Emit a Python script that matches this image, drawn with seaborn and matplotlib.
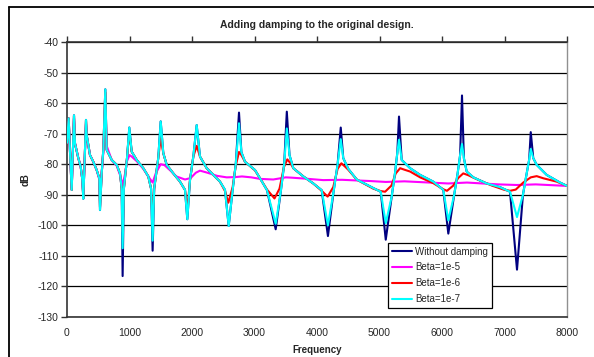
import matplotlib
matplotlib.use("Agg")
import matplotlib.pyplot as plt
from matplotlib.lines import Line2D
import seaborn as sns
import pandas as pd

# ---------------- data ----------------
freq_main = [0, 27, 48, 75, 112, 128, 181, 219, 245, 261, 280, 304, 315, 368, 421, 475, 517, 528,
             555, 581, 613, 635, 715, 795, 848, 875, 890, 910, 960, 997, 1035, 1115, 1221, 1301,
             1345, 1370, 1395, 1460, 1499, 1541, 1595, 1701, 1808, 1888, 1925, 1968, 2021, 2075,
             2128, 2235, 2341, 2448, 2528, 2587, 2650, 2700, 2752, 2790, 2848, 3008, 3100, 3200,
             3339, 3420, 3475, 3517, 3560, 3621, 3781, 3941, 4075, 4175, 4265, 4330, 4380, 4420,
             4500, 4635, 4900, 5020, 5100, 5195, 5248, 5285, 5312, 5355, 5490, 5650, 5860, 6021,
             6101, 6195, 6250, 6290, 6320, 6350, 6395, 6501, 6715, 6928, 7088, 7200, 7295, 7355,
             7395, 7420, 7460, 7515, 7675, 7888, 8000]

db_no_damping = [-73, -65, -76, -88.4, -64, -73.2, -78, -80.8, -85, -91.3, -80, -65.5, -70.4, -77,
                 -79.2, -81.9, -84.6, -95, -83, -75.3, -55.5, -75.3, -78.6, -80.2, -83, -88, -116.6,
                 -88, -78, -68, -75.9, -78.6, -81.3, -84, -88, -108.3, -88, -78, -66, -76.4, -80.2,
                 -83, -85.7, -88.4, -98, -85.2, -77.5, -67.2, -77.5, -81.3, -83.5, -85.7, -88.4,
                 -100.2, -88.5, -80, -63.1, -76, -79.2, -81.9, -85, -88.5, -101.3, -89, -80, -62.8,
                 -77, -81.3, -84, -86.3, -88.5, -103.5, -89, -80, -68, -78, -81.5, -85, -87.8, -89,
                 -104.7, -90.6, -82.9, -76.3, -64.4, -78.6, -81.3, -83.5, -85.7, -88.4, -102.7, -90,
                 -83, -77, -57.5, -78, -82.4, -84.3, -86.3, -87.5, -89, -114.5, -90, -83, -78.5,
                 -69.5, -78, -80.2, -83.5, -86, -87.1]

db_beta_1e7 = [-73, -65, -76, -88.4, -64, -73.2, -78, -80.8, -85, -91.3, -80, -65.5, -70.4, -77,
               -79.2, -81.9, -84.6, -95, -83, -75.3, -55.5, -75.3, -78.6, -80.2, -83, -88, -107.5,
               -88, -78, -68, -75.9, -78.6, -81.3, -84, -88, -105, -88, -78, -66, -76.4, -80.2,
               -83, -85.7, -88.4, -98, -85.2, -77.5, -67.2, -77.5, -81.3, -83.5, -85.7, -88.4,
               -100.2, -88.5, -80, -66.6, -76, -79.2, -81.9, -85, -88.5, -99.5, -89, -80, -68.3,
               -77, -81.3, -84, -86.3, -88.5, -100, -89, -80, -71.8, -78, -81.5, -85, -87.8, -89,
               -99.3, -90.6, -82.9, -76.3, -72, -78.6, -81.3, -83.5, -85.7, -88.4, -98.4, -90,
               -83, -77, -73.4, -78, -82.4, -84.3, -86.3, -87.5, -89, -97.3, -90, -83, -78.5,
               -75, -78, -80.2, -83.5, -86, -87.1]

freq_beta6 = [0, 27, 48, 75, 112, 128, 181, 219, 245, 261, 280, 304, 315, 368, 421, 475, 517, 528,
              555, 581, 613, 635, 715, 795, 848, 875, 890, 910, 960, 997, 1035, 1115, 1221, 1301,
              1345, 1370, 1395, 1460, 1499, 1541, 1595, 1701, 1808, 1888, 1925, 1968, 2021, 2075,
              2128, 2235, 2341, 2448, 2528, 2581, 2650, 2700, 2752, 2790, 2848, 3008, 3100, 3200,
              3320, 3400, 3470, 3525, 3580, 3621, 3781, 3941, 4075, 4170, 4260, 4330, 4390, 4450,
              4500, 4635, 4900, 5020, 5090, 5190, 5260, 5330, 5400, 5490, 5650, 5860, 6021, 6080,
              6180, 6260, 6340, 6420, 6600, 6800, 7000, 7090, 7180, 7300, 7420, 7515, 7621, 7835,
              8000]
db_beta_1e6 = [-73, -65, -76, -88.4, -64.2, -73.2, -78, -80.8, -85, -91, -80, -65.8, -70.6, -77,
               -79.2, -81.9, -84.6, -94, -83, -75.3, -56.5, -75.3, -78.6, -80.2, -83, -88, -102,
               -88, -78, -69.5, -75.9, -78.6, -81.3, -84, -88, -99, -88, -78, -71.5, -76.4, -80.2,
               -83, -85.7, -88.4, -95, -85.2, -77.5, -74, -77.5, -81.3, -83.5, -85.7, -88.8,
               -92.6, -87.5, -80.5, -76, -77, -79.2, -82, -85, -88.3, -91.2, -88, -81, -78.4,
               -79.8, -81.3, -84, -86.3, -88.7, -90.6, -87.5, -81.5, -79.7, -80.8, -81.8, -85,
               -88, -88.8, -89, -87, -83, -81.3, -81.8, -82.4, -84.3, -86.2, -88.2, -88.7, -87,
               -84.5, -83, -83.6, -85.3, -87, -88.4, -88.7, -88.3, -86, -84.3, -83.9, -84.6,
               -85.7, -87.1]

freq_beta5 = [0, 27, 48, 75, 112, 128, 181, 219, 245, 261, 280, 304, 315, 368, 421, 475, 517, 528,
              555, 581, 613, 635, 715, 795, 848, 890, 930, 960, 1000, 1035, 1115, 1221, 1301, 1370,
              1420, 1499, 1560, 1650, 1750, 1888, 1980, 2060, 2128, 2250, 2400, 2555, 2700, 2800,
              2950, 3088, 3300, 3500, 3595, 3800, 4100, 4400, 4848, 5100, 5400, 5800, 6100, 6400,
              6900, 7200, 7500, 8000]
db_beta_1e5 = [-73, -66, -76, -87.5, -65, -73.2, -78, -80.8, -85, -90, -80, -67, -71, -77, -79.2,
               -81.9, -85, -90, -83, -76, -60, -74, -78.6, -80.5, -83.5, -86.8, -83, -79, -77,
               -77.5, -79, -81.5, -84, -86, -83, -80, -80.3, -82, -84, -85, -84.5, -82.8, -82.1,
               -82.8, -83.8, -84.3, -84.2, -84, -84.3, -84.8, -85, -84.3, -84.4, -84.7, -85.2,
               -85.1, -85.5, -85.8, -85.6, -86, -86.3, -86, -86.6, -86.8, -86.6, -87.1]

labels = ["Without damping", "Beta=1e-5", "Beta=1e-6", "Beta=1e-7"]
colors = ["#000080", "#FF00FF", "#FF0000", "#00FFFF"]

x_ticks = list(range(0, 8001, 1000))
y_ticks = list(range(-130, -39, 10))

# ---------------- build tidy table ----------------
frames = [
    pd.DataFrame({"Frequency": freq_main, "dB": db_no_damping, "series": labels[0]}),
    pd.DataFrame({"Frequency": freq_beta5, "dB": db_beta_1e5, "series": labels[1]}),
    pd.DataFrame({"Frequency": freq_beta6, "dB": db_beta_1e6, "series": labels[2]}),
    pd.DataFrame({"Frequency": freq_main, "dB": db_beta_1e7, "series": labels[3]}),
]
df = pd.concat(frames, ignore_index=True)

# ---------------- plot ----------------
sns.set_style("white")
plt.rcParams["font.family"] = ["Liberation Sans", "DejaVu Sans"]
plt.rcParams["axes.unicode_minus"] = False

fig = plt.figure(figsize=(5.94, 3.57), dpi=100)
ax = fig.add_axes([67 / 594, 1 - 317 / 357, 500 / 594, 275 / 357])

for lab, col in zip(labels, colors):
    sub = df[df["series"] == lab]
    sns.lineplot(data=sub, x="Frequency", y="dB", color=col, label=lab, ax=ax,
                 estimator=None, sort=False, linewidth=1.5, zorder=3)

ax.set_xlim(0, 8000)
ax.set_ylim(-130, -40)
ax.set_xticks(x_ticks)
ax.set_yticks(y_ticks)
ax.tick_params(axis="x", top=True, bottom=False, labeltop=False, labelbottom=True,
               direction="out", length=4, width=1, color="#333333", labelsize=7.5, pad=4)
ax.tick_params(axis="y", left=True, direction="out", length=4, width=1, color="#333333",
               labelsize=7.5, pad=2)
ax.yaxis.grid(True, color="black", linewidth=0.9, zorder=0)
ax.xaxis.grid(False)
ax.set_axisbelow(True)

for side in ["left", "top", "bottom"]:
    ax.spines[side].set_color("#333333")
    ax.spines[side].set_linewidth(1.2)
ax.spines["right"].set_color("#909090")
ax.spines["right"].set_linewidth(1.0)

ax.set_xlabel("Frequency", fontsize=7, fontweight="bold", labelpad=5)
ax.set_ylabel("dB", fontsize=7, fontweight="bold", labelpad=5)
ax.set_title("Adding damping to the original design.", fontsize=7.5, fontweight="bold", pad=10)

leg = ax.legend(loc="lower left", bbox_to_anchor=(0.642, 0.033), borderaxespad=0,
                fontsize=7, frameon=True, fancybox=False, framealpha=1, edgecolor="black",
                handlelength=2.1, handletextpad=0.3, labelspacing=0.6, borderpad=0.4)
leg.get_frame().set_linewidth(0.9)
for h in leg.get_lines():
    h.set_linewidth(1.5)

# outer chart frame (partly cut off at right/bottom)
fig.add_artist(Line2D([9 / 594, 9 / 594], [0, 1 - 7 / 357], color="black", lw=1.3,
                      transform=fig.transFigure))
fig.add_artist(Line2D([9 / 594, 1], [1 - 7 / 357, 1 - 7 / 357], color="black", lw=1.3,
                      transform=fig.transFigure))

fig.savefig("out.png", dpi=100)
